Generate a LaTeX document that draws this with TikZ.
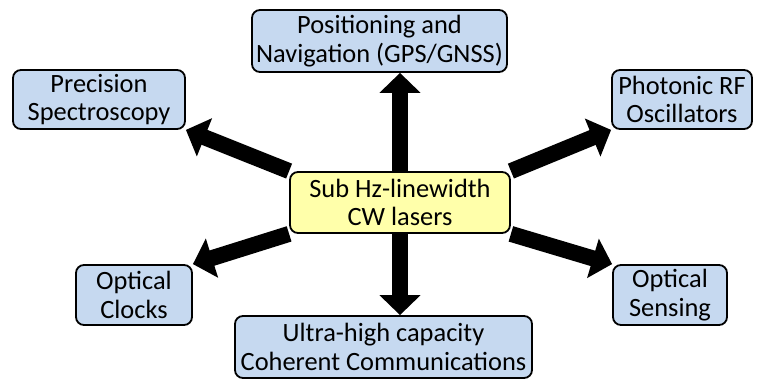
\documentclass[tikz,border=0pt]{standalone}
\usepackage{fontspec}
\setmainfont{Carlito}
\usetikzlibrary{arrows.meta,backgrounds}
\definecolor{appblue}{RGB}{198,217,240}
\definecolor{hubyellow}{RGB}{255,255,170}
\tikzset{
  appbox/.style={draw=black,line width=1.8bp,rounded corners=8bp,fill=appblue,
    align=center,inner sep=0pt,font=\fontsize{26.5}{28.5}\selectfont},
  hubbox/.style={appbox,fill=hubyellow},
  fatarrow/.style={line width=16bp,-{Triangle[length=20bp,width=40bp]}},
}
\begin{document}
\begin{tikzpicture}[line join=miter]
\useasboundingbox (0bp,0bp) rectangle (760bp,381bp);
%%
\node (hub) at (400.0bp,178.5bp) [hubbox,minimum width=220bp,minimum height=61bp] {Sub Hz-linewidth\\CW lasers};
  \node (nav) at (379.5bp,340.0bp) [appbox,minimum width=255bp,minimum height=62bp] {Positioning and\\Navigation (GPS/GNSS)};
  \node (spec) at (99.0bp,281.5bp) [appbox,minimum width=172bp,minimum height=59bp] {Precision\\Spectroscopy};
  \node (rf) at (682.0bp,281.5bp) [appbox,minimum width=140bp,minimum height=59bp] {Photonic RF\\Oscillators};
  \node (clocks) at (134.0bp,86.0bp) [appbox,minimum width=116bp,minimum height=60bp] {Optical\\Clocks};
  \node (sensing) at (670.0bp,86.0bp) [appbox,minimum width=114bp,minimum height=60bp] {Optical\\Sensing};
  \node (comms) at (383.5bp,34.0bp) [appbox,minimum width=297bp,minimum height=62bp] {Ultra-high capacity\\Coherent Communications};
%
\begin{pgfonlayer}{background}
  \draw [fatarrow] (hub.north) -- (hub.north |- nav.south);
  \draw [fatarrow] (hub.south) -- (hub.south |- comms.north);
  \draw [fatarrow] (hub.north west) -- (spec.south east);
  \draw [fatarrow] (hub.north east) -- (rf.south west);
  \draw [fatarrow] (hub.south west) -- (clocks.north east);
  \draw [fatarrow] (hub.south east) -- (sensing.north west);
\end{pgfonlayer}
%
\end{tikzpicture}
\end{document}
